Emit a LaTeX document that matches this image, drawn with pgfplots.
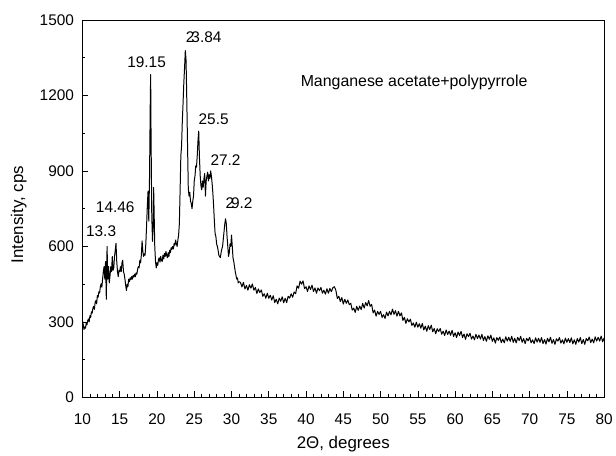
\documentclass[border=0pt]{standalone}
\usepackage{fontspec}
\setmainfont{Liberation Sans}
\usepackage{pgfplots}
\pgfplotsset{compat=1.18}
\begin{document}
\begin{tikzpicture}
\begin{axis}[
  scale only axis,
  width=525bp, height=380bp,
  xmin=10, xmax=80, ymin=0, ymax=1500,
  xtick={10,15,...,80}, minor x tick num=4,
  ytick={0,300,...,1500}, minor y tick num=1,
  tick align=inside, xtick pos=bottom, ytick pos=left,
  major tick length=6bp, minor tick length=3bp,
  axis line style={line width=0.7bp},
  tick style={line width=0.6bp, black},
  /pgf/number format/assume math mode=true,
  /pgf/number format/1000 sep={},
  tick label style={font=\fontsize{15.5bp}{17bp}\selectfont},
  xticklabel style={yshift=-13bp},
  yticklabel style={xshift=-5bp},
  xlabel={2Θ, degrees},
  ylabel={Intensity, cps},
  label style={font=\fontsize{17bp}{19bp}\selectfont},
  xlabel style={at={(axis description cs:0.5,-0.124)}, anchor=center},
  ylabel style={at={(axis description cs:-0.122,0.484)}, anchor=center},
  clip=false,
]
\addplot[black, line width=1bp, line join=round] coordinates {
(10.0,305) (10.1,290) (10.2,270) (10.3,280) (10.4,275) (10.5,295) (10.6,288) (10.7,305) (10.8,312) (10.9,300)
(11.0,325) (11.1,318) (11.2,340) (11.3,335) (11.4,355) (11.5,362) (11.6,350) (11.7,378) (11.8,385) (11.9,372)
(12.0,405) (12.1,398) (12.2,420) (12.3,415) (12.4,440) (12.5,452) (12.6,438) (12.7,470) (12.8,500) (12.9,520)
(13.0,470) (13.1,540) (13.2,390) (13.3,600) (13.4,470) (13.5,520) (13.6,455) (13.7,485) (13.8,520) (13.9,500)
(14.0,560) (14.1,505) (14.2,515) (14.3,560) (14.4,585) (14.5,612) (14.6,540) (14.7,500) (14.8,480) (14.9,505)
(15.0,500) (15.1,520) (15.2,500) (15.3,535) (15.4,545) (15.5,500) (15.6,490) (15.7,470) (15.8,445) (15.9,425)
(16.0,450) (16.1,440) (16.2,470) (16.3,460) (16.4,475) (16.5,468) (16.6,480) (16.7,470) (16.8,485) (16.9,478)
(17.0,490) (17.1,480) (17.2,495) (17.3,490) (17.4,510) (17.5,520) (17.6,515) (17.7,545) (17.8,535) (17.9,565)
(18.0,622) (18.1,580) (18.2,560) (18.3,570) (18.4,565) (18.5,610) (18.6,680) (18.7,760) (18.8,820) (18.9,700)
(19.0,880) (19.1,1180) (19.15,1283) (19.2,1050) (19.3,720) (19.4,620) (19.5,700) (19.55,834) (19.6,760) (19.7,600) (19.8,540) (19.9,515)
(20.0,535) (20.1,525) (20.2,548) (20.3,555) (20.4,538) (20.5,560) (20.6,545) (20.7,540) (20.8,565) (20.9,550)
(21.0,572) (21.1,560) (21.2,580) (21.3,565) (21.4,555) (21.5,575) (21.6,560) (21.7,585) (21.8,575) (21.9,595)
(22.0,588) (22.1,600) (22.2,590) (22.3,612) (22.4,605) (22.5,625) (22.6,610) (22.7,600) (22.8,625) (22.9,645)
(23.0,690) (23.1,820) (23.2,960) (23.3,1000) (23.4,1100) (23.5,1170) (23.6,1250) (23.7,1310) (23.8,1378) (23.9,1340)
(24.0,1180) (24.1,1000) (24.2,830) (24.3,800) (24.4,815) (24.5,780) (24.6,770) (24.7,750) (24.8,780) (24.9,800)
(25.0,860) (25.1,880) (25.2,920) (25.3,915) (25.4,960) (25.5,1020) (25.6,1058) (25.7,950) (25.8,880) (25.9,840)
(26.0,825) (26.1,860) (26.2,835) (26.3,870) (26.4,890) (26.5,800) (26.6,860) (26.7,880) (26.8,895) (26.9,860)
(27.0,885) (27.1,870) (27.2,900) (27.3,880) (27.4,850) (27.5,810) (27.6,760) (27.7,700) (27.8,650) (27.9,640)
(28.0,610) (28.1,600) (28.2,585) (28.3,565) (28.4,560) (28.5,555) (28.6,575) (28.7,590) (28.8,600) (28.9,630)
(29.0,660) (29.1,690) (29.2,710) (29.3,690) (29.4,640) (29.5,600) (29.6,560) (29.7,575) (29.8,610) (29.9,600)
(30.0,645) (30.1,600) (30.2,555) (30.3,540) (30.4,520) (30.5,500) (30.6,485) (30.7,470) (30.8,475) (30.9,455)
(31.0,460) (31.2,457) (31.4,439) (31.6,457) (31.8,431)
(32.0,445) (32.2,426) (32.4,448) (32.6,434) (32.8,451)
(33.0,426) (33.2,437) (33.4,413) (33.6,431) (33.8,417)
(34.0,427) (34.2,402) (34.4,412) (34.6,394) (34.8,414)
(35.0,394) (35.2,406) (35.4,387) (35.6,404) (35.8,377)
(36.0,390) (36.2,372) (36.4,395) (36.6,382) (36.8,400)
(37.0,376) (37.2,394) (37.4,377) (37.6,402) (37.8,395)
(38.0,412) (38.2,398) (38.4,419) (38.6,412) (38.8,443)
(39.0,434) (39.2,462) (39.4,450) (39.6,463) (39.8,432)
(40.0,440) (40.2,421) (40.4,443) (40.6,429) (40.8,446)
(41.0,421) (41.2,435) (41.4,414) (41.6,435) (41.8,424)
(42.0,437) (42.2,414) (42.4,426) (42.6,410) (42.8,432)
(43.0,414) (43.2,433) (43.4,420) (43.6,436) (43.8,440)
(44.0,426) (44.2,393) (44.4,402) (44.6,381) (44.8,397)
(45.0,371) (45.2,390) (45.4,374) (45.6,387) (45.8,369)
(46.0,374) (46.2,347) (46.4,355) (46.6,338) (46.8,362)
(47.0,346) (47.2,363) (47.4,349) (47.6,374) (47.8,355)
(48.0,377) (48.2,364) (48.4,385) (48.6,362) (48.8,370)
(49.0,336) (49.2,347) (49.4,323) (49.6,342) (49.8,330)
(50.0,342) (50.2,318) (50.4,329) (50.6,314) (50.8,339)
(51.0,324) (51.2,342) (51.4,328) (51.6,351) (51.8,330)
(52.0,345) (52.2,323) (52.4,342) (52.6,324) (52.8,336)
(53.0,306) (53.2,318) (53.4,294) (53.6,313) (53.8,300)
(54.0,311) (54.2,286) (54.4,296) (54.6,279) (54.8,299)
(55.0,279) (55.2,293) (55.4,275) (55.6,294) (55.8,268)
(56.0,283) (56.2,263) (56.4,285) (56.6,270) (56.8,287)
(57.0,261) (57.2,274) (57.4,253) (57.6,273) (57.8,262)
(58.0,274) (58.2,251) (58.4,263) (58.6,246) (58.8,268)
(59.0,250) (59.2,264) (59.4,247) (59.6,267) (59.8,242)
(60.0,257) (60.2,238) (60.4,260) (60.6,246) (60.8,263)
(61.0,238) (61.2,252) (61.4,231) (61.6,253) (61.8,242)
(62.0,255) (62.2,232) (62.4,244) (62.6,229) (62.8,251)
(63.0,234) (63.2,248) (63.4,232) (63.6,251) (63.8,226)
(64.0,242) (64.2,223) (64.4,245) (64.6,231) (64.8,248)
(65.0,223) (65.2,237) (65.4,216) (65.6,238) (65.8,227)
(66.0,240) (66.2,218) (66.4,232) (66.6,217) (66.8,241)
(67.0,224) (67.2,239) (67.4,223) (67.6,243) (67.8,219)
(68.0,235) (68.2,217) (68.4,239) (68.6,226) (68.8,243)
(69.0,219) (69.2,234) (69.4,214) (69.6,235) (69.8,225)
(70.0,239) (70.2,217) (70.4,229) (70.6,214) (70.8,237)
(71.0,220) (71.2,235) (71.4,219) (71.6,238) (71.8,214)
(72.0,230) (72.2,212) (72.4,235) (72.6,221) (72.8,239)
(73.0,215) (73.2,230) (73.4,211) (73.6,233) (73.8,224)
(74.0,238) (74.2,216) (74.4,229) (74.6,213) (74.8,236)
(75.0,219) (75.2,234) (75.4,218) (75.6,237) (75.8,213)
(76.0,229) (76.2,211) (76.4,234) (76.6,220) (76.8,238)
(77.0,214) (77.2,230) (77.4,211) (77.6,234) (77.8,225)
(78.0,240) (78.2,218) (78.4,232) (78.6,217) (78.8,241)
(79.0,224) (79.2,239) (79.4,224) (79.6,244) (79.8,221)
(80.0,237)
};
\begin{scope}[every node/.style={font=\fontsize{15.5bp}{17bp}\selectfont, inner sep=0pt}]
\node at (axis cs:12.5,661) {13.3};
\node at (axis cs:14.4,756) {14.46};
\node at (axis cs:18.6,1331) {19.15};
\node at (axis cs:26.27,1433) {2\kern-0.2em3.84};
\node at (axis cs:27.6,1106) {25.5};
\node at (axis cs:29.2,941) {27.2};
\node at (axis cs:31.0,772) {2\kern-0.2em9.2};
\node[font=\fontsize{16bp}{18bp}\selectfont] at (axis cs:54.5,1250) {Manganese acetate+polypyrrole};
\end{scope}
\end{axis}
\path ([shift={(-83bp,-53bp)}]current axis.south west) rectangle ([shift={(8bp,20bp)}]current axis.north east);
\end{tikzpicture}
\end{document}
